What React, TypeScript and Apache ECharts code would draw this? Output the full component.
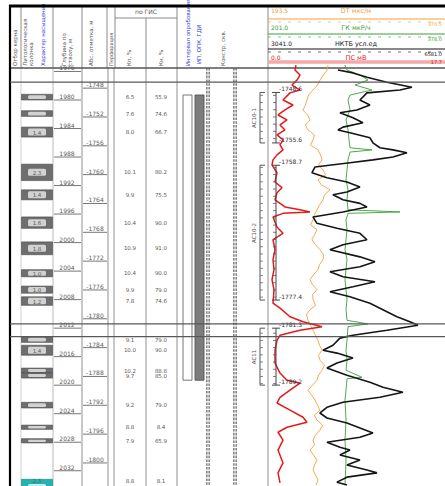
import React, { useEffect, useRef } from "react";
import * as echarts from "echarts";

const W = 445;
const H = 486;
const FONT = "DejaVu Sans";

// measured depth (along the hole) shown by the log body, m
const depthMin = 1974.67;
const depthMax = 2034.14;

// depth ticks along the hole, m
const mdTicks = [1976, 1980, 1984, 1988, 1992, 1996, 2000, 2004, 2008, 2012, 2016, 2020, 2024, 2028, 2032];
// absolute mark ticks (below sea level), m
const absTicks = [1748, 1752, 1756, 1760, 1764, 1768, 1772, 1776, 1780, 1784, 1788, 1792, 1796, 1800];
// absolute mark -> measured depth
const absToMd = (a: number) => 1982.38 + (a - 1752) * 1.011;

// interpreted beds: top (MD), thickness, porosity %, oil saturation %, fluid
const layerTop = [1979.2, 1981.5, 1983.8, 1989.0, 1992.6, 1996.4, 1999.9, 2003.8, 2006.1, 2007.6, 2013.2, 2014.4, 2017.6, 2018.3, 2022.4, 2025.6, 2027.5, 2033.2];
const layerThickness = [0.8, 0.8, 1.4, 2.3, 1.4, 1.6, 1.8, 1.0, 1.0, 1.2, 0.8, 1.4, 0.7, 0.7, 0.8, 0.6, 0.6, 2.3];
const layerKp = [6.5, 7.6, 8.0, 10.1, 9.9, 10.4, 10.9, 10.4, 9.9, 7.8, 9.1, 10.0, 10.2, 9.7, 9.2, 8.8, 7.9, 8.8];
const layerKn = [55.9, 74.6, 66.7, 80.2, 75.5, 90.0, 91.0, 90.0, 79.0, 74.6, 79.0, 90.0, 88.8, 85.0, 79.0, 8.4, 65.9, 8.1];
const layerFluid = ["oil", "oil", "oil", "oil", "oil", "oil", "oil", "oil", "oil", "oil", "oil", "oil", "oil", "oil", "oil", "oil", "oil", "water"];

// tested interval (MD)
const testTop = [1979.3];
const testBottom = [2019.3];

// reservoir zones, absolute marks
const zoneName = ["АС10-1", "АС10-2", "АС11"];
const zoneTopAbs = [1748.6, 1758.7, 1781.3];
const zoneBottomAbs = [1755.6, 1777.4, 1789.2];

// correlation boundaries (MD)
const markerDepth = [1977.5, 2011.4, 2013.2];

// log curves: name, scale and colour
const curveName = ["DT мкс/м", "ГК мкР/ч", "НКТБ усл.ед", "ПС мВ"];
const curveMin = [193.5, 201.0, 3041.0, 0.0];
const curveMax = [370.5, 378.0, 6581.0, 17.7];
const curveColor = ["#f3a23c", "#3d9e3d", "#151515", "#e41a1a"];

// [MD, value]
const dtLog: [number, number][] = [
  [1975.1, 253.5], [1975.8, 252.5], [1976.5, 249], [1977.2, 245.5], [1977.9, 243], [1978.6, 238.5],
  [1979.3, 234], [1980.0, 232.5], [1980.7, 231], [1981.4, 228.5], [1982.1, 233], [1982.8, 235.5],
  [1983.5, 231], [1984.2, 233.5], [1984.9, 240], [1985.6, 238.5], [1986.3, 236], [1987.0, 243.5],
  [1987.7, 246], [1988.4, 247.5], [1989.1, 244], [1989.8, 248.5], [1990.5, 251], [1991.2, 243.5],
  [1991.9, 247], [1992.6, 255.5], [1993.3, 250], [1994.0, 248.5], [1994.7, 245], [1995.4, 242.5],
  [1996.1, 240], [1996.8, 238.5], [1997.5, 236], [1998.2, 242.5], [1998.9, 240], [1999.6, 237.5],
  [2000.3, 241], [2001.0, 245.5], [2001.7, 249], [2002.4, 248.5], [2003.1, 245], [2003.8, 243.5],
  [2004.5, 239], [2005.2, 235.5], [2005.9, 238], [2006.6, 242.5], [2007.3, 238], [2008.0, 238.5],
  [2008.8, 241], [2009.4, 235.5], [2010.1, 232], [2010.9, 233.5], [2011.6, 236], [2012.3, 238.5],
  [2013.0, 241], [2013.7, 243.5], [2014.4, 245], [2015.1, 247.5], [2015.8, 244], [2016.5, 245.5],
  [2017.2, 250], [2017.9, 247.5], [2018.6, 244], [2019.3, 242.5], [2020.0, 238], [2020.7, 233.5],
  [2021.4, 237], [2022.1, 240.5], [2022.8, 243], [2023.5, 245.5], [2024.2, 240], [2024.9, 242.5],
  [2025.6, 248], [2026.3, 245.5], [2027.0, 241], [2027.7, 238.5], [2028.4, 240], [2029.1, 235.5],
  [2029.8, 239], [2030.5, 242.5], [2031.2, 240], [2031.9, 238.5], [2032.6, 241], [2033.3, 243.5],
  [2034.0, 241.5],
];

const gkLog: [number, number][] = [
  [1975.1, 278], [1975.8, 280], [1976.5, 293], [1977.2, 301], [1977.9, 288], [1978.6, 305],
  [1979.3, 283], [1980.0, 281], [1981.4, 283], [1982.8, 279], [1984.2, 281], [1985.6, 282],
  [1986.7, 283], [1987.0, 305], [1987.3, 283], [1988.4, 281], [1989.8, 280], [1991.2, 279],
  [1992.6, 281], [1994.0, 280], [1995.4, 281], [1995.7, 333], [1995.9, 281], [1996.8, 279],
  [1998.2, 280], [1999.6, 279], [2001.0, 278], [2002.4, 280], [2003.8, 279], [2005.2, 278],
  [2006.6, 279], [2008.0, 280], [2009.4, 279], [2010.9, 280], [2011.4, 301], [2011.8, 281],
  [2013.7, 280], [2015.1, 279], [2016.5, 280], [2017.9, 279], [2018.9, 295], [2019.1, 280],
  [2020.7, 279], [2022.1, 278], [2024.9, 279], [2027.7, 278], [2030.5, 279], [2034.0, 278],
];

const nktbLog: [number, number][] = [
  [1975.8, 4440], [1976.2, 4740], [1976.8, 5020], [1977.5, 5420], [1978.2, 5920], [1978.6, 5680],
  [1979.0, 5020], [1980.0, 4880], [1980.7, 5080], [1981.4, 4820], [1981.8, 4480], [1982.5, 4740],
  [1983.2, 4940], [1983.8, 4540], [1984.2, 4440], [1984.6, 4680], [1985.3, 5080], [1986.0, 5140],
  [1986.7, 5280], [1987.0, 5540], [1987.4, 5820], [1988.0, 5540], [1988.4, 5140], [1988.8, 4680],
  [1989.4, 3980], [1990.2, 3920], [1990.9, 4220], [1991.5, 4620], [1992.2, 4880], [1992.9, 4620],
  [1993.3, 4340], [1994.0, 4540], [1994.5, 4880], [1995.0, 5020], [1995.7, 4540], [1996.4, 3940],
  [1997.3, 4020], [1998.0, 4420], [1998.7, 4880], [1999.6, 5020], [2000.3, 4540], [2001.0, 4280],
  [2002.0, 4880], [2002.7, 5180], [2003.4, 4880], [2004.1, 4280], [2004.8, 4540], [2005.5, 5180],
  [2006.2, 4740], [2006.9, 4280], [2007.6, 4680], [2008.5, 5080], [2009.7, 5420], [2010.4, 5620],
  [2011.1, 5880], [2011.6, 6040], [2012.3, 5420], [2013.0, 4740], [2013.4, 4480], [2014.4, 4340],
  [2015.1, 4140], [2015.5, 4420], [2016.2, 4740], [2016.9, 4420], [2017.6, 4220], [2018.6, 4620],
  [2019.6, 5080], [2020.3, 5340], [2021.0, 5740], [2021.7, 5280], [2022.4, 4540], [2023.1, 4220],
  [2023.9, 4080], [2024.6, 4220], [2025.3, 4620], [2026.0, 4880], [2026.7, 5140], [2027.3, 4880],
  [2028.0, 4220], [2028.7, 4480], [2029.1, 4680], [2029.8, 4480], [2030.5, 4880], [2031.2, 4620],
  [2031.9, 5020], [2032.3, 5220], [2032.9, 4620], [2033.6, 4420], [2034.0, 4620],
];

const psLog: [number, number][] = [
  [1975.1, 2.8], [1975.8, 2.7], [1976.5, 3.2], [1977.2, 2.9], [1977.9, 2.4], [1978.6, 3.2],
  [1979.0, 2.2], [1980.0, 1.5], [1980.7, 2.5], [1981.4, 1.7], [1982.1, 1.0], [1982.8, 1.9],
  [1983.5, 1.2], [1984.2, 1.7], [1984.9, 0.9], [1985.6, 1.5], [1986.3, 1.2], [1987.0, 1.5],
  [1987.7, 0.9], [1988.4, 0.5], [1989.1, 0.4], [1990.2, 0.9], [1991.5, 0.7], [1992.3, 1.4],
  [1993.0, 0.9], [1994.0, 0.7], [1995.0, 1.7], [1995.4, 3.2], [1995.7, 4.2], [1995.9, 1.5],
  [1996.4, 0.5], [1997.8, 0.9], [1998.7, 1.5], [1999.6, 0.5], [2001.0, 0.7], [2002.4, 0.5],
  [2003.8, 0.6], [2005.2, 0.4], [2006.6, 0.6], [2008.5, 0.5], [2009.2, 1.2], [2010.4, 2.2],
  [2011.1, 3.5], [2011.8, 5.4], [2012.3, 3.2], [2013.0, 1.2], [2013.7, 0.9], [2015.1, 0.7],
  [2016.9, 0.7], [2018.3, 1.2], [2019.3, 1.9], [2019.7, 3.2], [2020.7, 2.2], [2021.7, 1.2],
  [2022.5, 0.9], [2023.5, 2.2], [2024.5, 3.5], [2025.2, 3.9], [2025.9, 1.9], [2026.6, 1.0],
  [2027.7, 1.5], [2029.1, 1.0], [2030.9, 1.5], [2032.3, 1.0], [2033.7, 1.2],
];

const curveData = [dtLog, gkLog, nktbLog, psLog];
const curveWidth = [0.9, 0.9, 1.6, 1.5];

// ---- drawing helpers -------------------------------------------------------
const ln = (x1: number, y1: number, x2: number, y2: number, stroke = "#888", lineWidth = 1, lineDash?: number[]) => ({
  type: "line",
  silent: true,
  shape: { x1, y1, x2, y2 },
  style: { stroke, lineWidth, lineDash },
});

const tx = (
  x: number,
  y: number,
  text: string,
  fill = "#555",
  fontSize = 6,
  align = "left",
  vAlign = "middle",
  rotation = 0
) => ({
  type: "text",
  silent: true,
  x: Math.round(x),
  y: Math.round(y),
  rotation,
  style: {
    text,
    x: 0,
    y: 0,
    fill,
    textFill: fill,
    fontSize,
    fontFamily: FONT,
    align,
    verticalAlign: vAlign,
    textAlign: align,
    textVerticalAlign: vAlign,
  },
});

// vertical text reading upwards, anchored at its lower end
const vt = (x: number, y: number, text: string, fill = "#555", fontSize = 5.5, align = "left") =>
  tx(x, y, text, fill, fontSize, align, "middle", Math.PI / 2);

function buildGraphic() {
  const g: any[] = [];
  const HB = 68; // header bottom

  // header column captions
  g.push(vt(15, 66, "Отбор керна"));
  g.push(vt(25, 66, "Литологическая"));
  g.push(vt(31, 66, "колонка"));
  g.push(vt(43, 66, "Характер насыщения", "#3b3bd6"));
  g.push(vt(64, 66, "Глубина по"));
  g.push(vt(70, 66, "стволу, м"));
  g.push(vt(91, 66, "Абс. отметка, м"));
  g.push(vt(111, 66, "Перфорация", "#555", 5));
  g.push(tx(146, 11, "по ГИС", "#555", 6, "center"));
  g.push(vt(129, 66, "Кп, %"));
  g.push(vt(161, 66, "Кн, %"));
  g.push(vt(188, 66, "Интервал опробования", "#3b3bd6"));
  g.push(vt(199, 64, "ИП, ОПК, ГДИ", "#3b3bd6"));
  g.push(vt(223, 66, "Констр. скв."));

  // header separators
  [21, 53, 82, 107, 115, 177, 268].forEach((x) => g.push(ln(x, 7, x, HB, "#8a8a8a", 1)));
  g.push(ln(146, 18, 146, HB, "#8a8a8a", 1));
  g.push(ln(115, 18, 177, 18, "#8a8a8a", 1));

  // body separators
  g.push(ln(21, HB, 21, H, "#c4c4c4", 0.8));
  g.push(ln(53, HB, 53, H, "#a8a8a8", 0.8));
  [82, 108, 114, 146, 177, 268].forEach((x) => g.push(ln(x, HB, x, H, "#8f8f8f", 1)));

  // casing strings
  [208, 235].forEach((x) => {
    g.push(ln(x, HB, x, H, "#6a6a6a", 3.6, [2.6, 1.2]));
    g.push(ln(x, HB, x, H, "#ffffff", 1));
  });

  // curve headers
  const rowY = [10, 27, 43, 57];
  const lineY = [19, 34, 49, 62];
  curveName.forEach((name, i) => {
    const c = curveColor[i];
    g.push(tx(271, rowY[i], curveMin[i].toFixed(1), c, 6));
    g.push(tx(356, rowY[i] + 1, name, c, 6.5, "center"));
    if (i === 3) {
      g.push(ln(268, lineY[i], W, lineY[i], "#f6a9a9", 3.5));
    } else {
      g.push(ln(268, lineY[i], W, lineY[i], c, 1.2));
      g.push(ln(268, lineY[i] + 3, W, lineY[i] + 3, c, 0.6, [3, 7]));
    }
    g.push(tx(W - 3, lineY[i] + (i === 3 ? 0 : 5), curveMax[i].toFixed(1), c, 5, "right"));
  });

  // header bottom rule and frame
  g.push(ln(10, HB, W, HB, "#555", 1.3));
  g.push(ln(9, 6, W, 6, "#000", 3));
  g.push(ln(10, 5, 10, H, "#000", 2.2));
  return g;
}

function buildOption() {
  const yOf = (api: any, d: number) => api.coord([0, d])[1];
  const near = (a: number, b: number) => Math.abs(a - b) < 0.05;

  const layerSeries = {
    type: "custom",
    xAxisIndex: 0,
    yAxisIndex: 0,
    z: 2,
    data: layerTop.map((_, i) => [i, i]),
    renderItem: (params: any, api: any) => {
      const i = params.dataIndex;
      const y0 = yOf(api, layerTop[i]);
      const y1 = yOf(api, layerTop[i] + layerThickness[i]);
      const h = y1 - y0;
      const mid = (y0 + y1) / 2;
      const water = layerFluid[i] === "water";
      const lh = Math.max(2, Math.min(h - 2, 7));
      const ch: any[] = [
        {
          type: "rect",
          shape: { x: 21.5, y: y0, width: 31, height: h },
          style: { fill: water ? "#25b3b1" : "#6e6e6e", stroke: water ? "#157d7b" : "#4a4a4a", lineWidth: 0.6 },
        },
        {
          type: "rect",
          shape: { x: 28, y: mid - lh / 2, width: 18, height: lh, r: 1.5 },
          style: { fill: water ? "#bff0ef" : "#d2d2d2" },
        },
      ];
      // value labels: split apart when two thin beds touch, keep inside the page
      let ty = Math.min(mid, H - 5);
      let va = "middle";
      const nextTouches = i + 1 < layerTop.length && near(layerTop[i + 1], layerTop[i] + layerThickness[i]);
      const prevTouches = i > 0 && near(layerTop[i], layerTop[i - 1] + layerThickness[i - 1]);
      const thin = h < 7;
      if (thin && nextTouches && layerThickness[i + 1] < 1) { ty = y1 + 0.5; va = "bottom"; }
      else if (thin && prevTouches && layerThickness[i - 1] < 1) { ty = y0 - 0.5; va = "top"; }
      if (h >= 7) ch.push(tx(37, Math.min(mid + 0.5, H - 5), layerThickness[i].toFixed(1), "#5c5c5c", 5.5, "center"));
      ch.push(tx(130, ty, layerKp[i].toFixed(1), "#5a5a5a", 5.5, "center", va));
      ch.push(tx(161, ty, layerKn[i].toFixed(1), "#5a5a5a", 5.5, "center", va));
      return { type: "group", children: ch };
    },
  };

  const mdSeries = {
    type: "custom",
    xAxisIndex: 0,
    yAxisIndex: 0,
    z: 2,
    data: mdTicks.map((d, i) => [i, d]),
    renderItem: (params: any, api: any) => {
      const d = mdTicks[params.dataIndex];
      const y = yOf(api, d);
      return {
        type: "group",
        children: [ln(54, y, 81, y, "#777", 1), tx(67, y - 1, String(d), "#5a5a5a", 6, "center", "bottom")],
      };
    },
  };

  const absSeries = {
    type: "custom",
    xAxisIndex: 0,
    yAxisIndex: 0,
    z: 2,
    data: absTicks.map((a, i) => [i, a]),
    renderItem: (params: any, api: any) => {
      const a = absTicks[params.dataIndex];
      const y = yOf(api, absToMd(a));
      return {
        type: "group",
        children: [ln(83, y, 107, y, "#777", 1), tx(95, y - 1, "-" + a, "#5a5a5a", 6, "center", "bottom")],
      };
    },
  };

  const testSeries = {
    type: "custom",
    xAxisIndex: 0,
    yAxisIndex: 0,
    z: 2,
    data: testTop.map((_, i) => [i, i]),
    renderItem: (params: any, api: any) => {
      const i = params.dataIndex;
      const y0 = yOf(api, testTop[i]);
      const y1 = yOf(api, testBottom[i]);
      return {
        type: "group",
        children: [
          { type: "rect", shape: { x: 183, y: y0, width: 9, height: y1 - y0 }, style: { fill: "#fff", stroke: "#666", lineWidth: 0.9 } },
          { type: "rect", shape: { x: 195, y: y0, width: 9, height: y1 - y0 }, style: { fill: "#7c7c7c", stroke: "#555", lineWidth: 0.9 } },
        ],
      };
    },
  };

  const zoneSeries = {
    type: "custom",
    xAxisIndex: 0,
    yAxisIndex: 0,
    z: 4,
    data: zoneName.map((_, i) => [i, i]),
    renderItem: (params: any, api: any) => {
      const i = params.dataIndex;
      const top = zoneTopAbs[i];
      const bot = zoneBottomAbs[i];
      const yT = yOf(api, absToMd(top));
      const yB = yOf(api, absToMd(bot));
      const ch: any[] = [];
      // bracket in the zone column
      ch.push(ln(260, yT, 260, yB, "#555", 1));
      ch.push(ln(260, yT, 265, yT, "#555", 1));
      ch.push(ln(260, yB, 265, yB, "#555", 1));
      // bracket at the log track edge
      ch.push(ln(276, yT, 276, yB, "#444", 1));
      ch.push(ln(272, yT, 280, yT, "#444", 1));
      ch.push(ln(272, yB, 280, yB, "#444", 1));
      for (let a = Math.ceil(top); a < bot; a++) {
        const y = yOf(api, absToMd(a));
        ch.push(ln(260, y, 263, y, "#666", 0.8));
        ch.push(ln(273, y, 276, y, "#555", 0.8));
      }
      ch.push(vt(254, (yT + yB) / 2, zoneName[i], "#555", 5.5, "center"));
      ch.push(tx(279, yT - 1, "-" + top.toFixed(1), "#333", 6, "left", "bottom"));
      ch.push(tx(279, yB - 1, "-" + bot.toFixed(1), "#333", 6, "left", "bottom"));
      return { type: "group", children: ch };
    },
  };

  const markerSeries = {
    type: "custom",
    xAxisIndex: 0,
    yAxisIndex: 0,
    z: 5,
    data: markerDepth.map((d, i) => [i, d]),
    renderItem: (params: any, api: any) => {
      const y = yOf(api, markerDepth[params.dataIndex]);
      return ln(10, y, W, y, "#595959", 1.3);
    },
  };

  const curveSeries = curveData.map((log, i) => ({
    type: "line",
    xAxisIndex: i + 1,
    yAxisIndex: 1,
    z: 3,
    showSymbol: false,
    symbol: "none",
    data: log.map(([d, v]) => [v, d]),
    lineStyle: { color: curveColor[i], width: curveWidth[i] },
  }));

  return {
    animation: false,
    backgroundColor: "#ffffff",
    grid: [
      { left: 0, top: 62, width: W, height: 424 },
      { left: 268, top: 62, width: 177, height: 424 },
    ],
    xAxis: [
      { gridIndex: 0, type: "value", min: 0, max: W, show: false },
      ...curveMin.map((mn, i) => ({ gridIndex: 1, type: "value", min: mn, max: curveMax[i], show: false })),
    ],
    yAxis: [
      { gridIndex: 0, type: "value", inverse: true, min: depthMin, max: depthMax, show: false },
      { gridIndex: 1, type: "value", inverse: true, min: depthMin, max: depthMax, show: false },
    ],
    graphic: buildGraphic(),
    series: [layerSeries, mdSeries, absSeries, testSeries, ...curveSeries, zoneSeries, markerSeries],
  };
}

export default function App() {
  const ref = useRef<HTMLDivElement>(null);
  useEffect(() => {
    document.body.style.margin = "0";
    const chart = echarts.init(ref.current as HTMLDivElement, null, { renderer: "svg" });
    chart.setOption(buildOption() as any);
    return () => chart.dispose();
  }, []);
  return <div ref={ref} style={{ width: W, height: H }} />;
}
